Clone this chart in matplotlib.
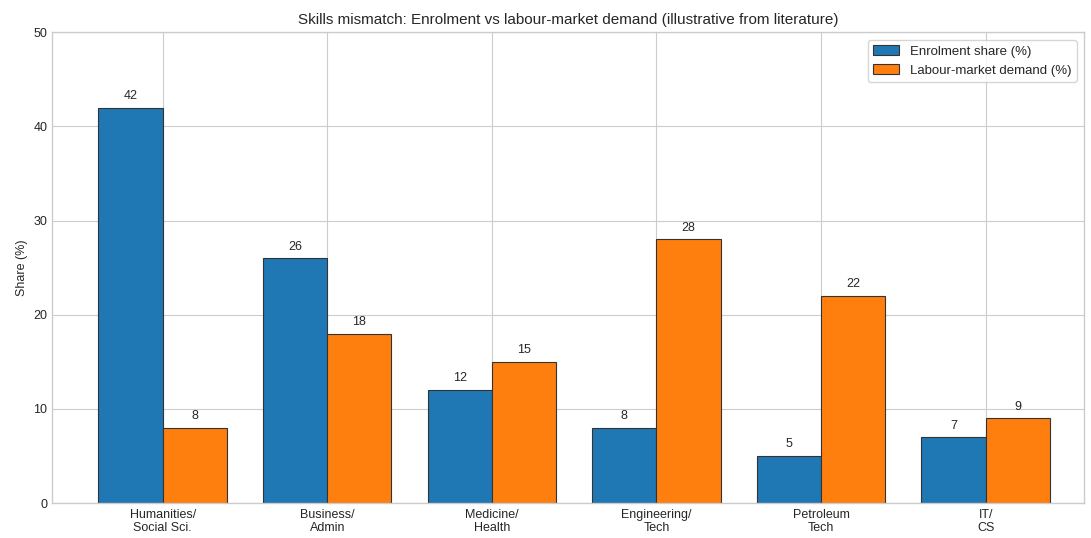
import matplotlib
matplotlib.use("Agg")
import matplotlib.pyplot as plt
import numpy as np

# data
fields = ["Humanities/\nSocial Sci.", "Business/\nAdmin", "Medicine/\nHealth",
          "Engineering/\nTech", "Petroleum\nTech", "IT/\nCS"]
enrolment = [42, 26, 12, 8, 5, 7]
demand = [8, 18, 15, 28, 22, 9]

plt.style.use("seaborn-v0_8-whitegrid")

fig, ax = plt.subplots(figsize=(10.91, 5.38), dpi=100)
fig.subplots_adjust(left=0.048, right=0.994, top=0.94, bottom=0.065)

x = np.arange(len(fields))
w = 0.39
b1 = ax.bar(x - w / 2, enrolment, w, label="Enrolment share (%)",
            color="#1f77b4", edgecolor="#333333", linewidth=0.8)
b2 = ax.bar(x + w / 2, demand, w, label="Labour-market demand (%)",
            color="#ff7f0e", edgecolor="#333333", linewidth=0.8)

for bars in (b1, b2):
    for r in bars:
        ax.annotate(f"{r.get_height():.0f}",
                    xy=(r.get_x() + r.get_width() / 2, r.get_height()),
                    xytext=(0, 4), textcoords="offset points",
                    ha="center", va="bottom", fontsize=9)

ax.set_xticks(x)
ax.set_xticklabels(fields, fontsize=9)
ax.tick_params(axis="x", pad=4)
ax.set_xlim(-0.67, 5.6)
ax.set_ylim(0, 50)
ax.set_ylabel("Share (%)", fontsize=9)
ax.tick_params(axis="y", labelsize=9)
ax.set_title("Skills mismatch: Enrolment vs labour-market demand (illustrative from literature)",
             fontsize=11)
ax.legend(loc="upper right", frameon=True, fontsize=9.5, borderaxespad=0.6)

fig.savefig("out.png", dpi=100)
